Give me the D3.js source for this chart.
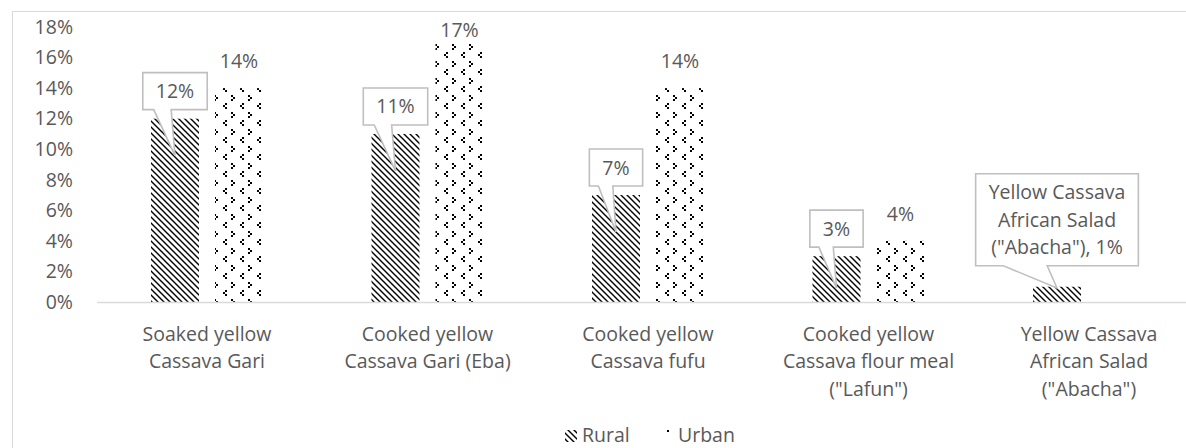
<!DOCTYPE html>
<html><head><meta charset="utf-8">
<script src="https://cdn.jsdelivr.net/npm/d3@7"></script>
<style>
html,body{margin:0;padding:0;background:#fff;}
svg{display:block;}
text{font-family:"Open Sans",sans-serif;fill:#595959;}
</style></head>
<body>
<svg id="chart" width="1186" height="448"></svg>
<script>
const categories = [
  ["Soaked yellow","Cassava Gari"],
  ["Cooked yellow","Cassava Gari (Eba)"],
  ["Cooked yellow","Cassava fufu"],
  ["Cooked yellow","Cassava flour meal","(\"Lafun\")"],
  ["Yellow Cassava","African Salad","(\"Abacha\")"]
];
const seriesNames = ["Rural","Urban"];
const ruralValues = [12, 11, 7, 3, 1];
const urbanValues = [14, 17, 14, 4, null];
const ruralCalloutLines = [["12%"],["11%"],["7%"],["3%"],["Yellow Cassava","African Salad","(\"Abacha\"), 1%"]];
const yTicks = [0,2,4,6,8,10,12,14,16,18];

const svg = d3.select("#chart");
const W = 1186, H = 448;
const FS = 19.5;

// chart border
svg.append("rect").attr("x",12.5).attr("y",11.5).attr("width",W).attr("height",H)
  .attr("fill","#fff").attr("stroke","#d9d9d9").attr("stroke-width",1);

// patterns
const defs = svg.append("defs");
const pr = defs.append("pattern").attr("id","pRural").attr("patternUnits","userSpaceOnUse")
  .attr("width",6).attr("height",6);
pr.append("path").attr("d","M-1,-1L7,7M-4,2L2,8M2,-4L8,2")
  .attr("stroke","#000").attr("stroke-width",1.4).attr("fill","none");
const pu = defs.append("pattern").attr("id","pUrban").attr("patternUnits","userSpaceOnUse")
  .attr("width",17).attr("height",17);
const divot = [[4,1],[2,3],[4,5],[10,10],[12,12],[10,14]];
pu.selectAll("rect").data(divot).join("rect")
  .attr("x",d=>d[0]).attr("y",d=>d[1]).attr("width",2).attr("height",2)
  .attr("fill","#000").attr("shape-rendering","crispEdges");

const x = d3.scaleBand().domain(d3.range(categories.length)).range([96.75, 1199.25]).padding(0);
const bw = x.bandwidth();
const xs = d3.scaleBand().domain(seriesNames).range([bw/2-56, bw/2+56]).paddingInner(0.25).paddingOuter(0);
const y = d3.scaleLinear().domain([0,18]).range([302, 27]);

// y axis
const ya = svg.append("g").attr("transform","translate(97,0)")
  .call(d3.axisLeft(y).tickValues(yTicks).tickFormat(d=>d+"%").tickSize(0).tickPadding(24));
ya.select(".domain").remove();
ya.selectAll("text").style("font-family","'Open Sans',sans-serif").style("font-size",FS+"px").attr("fill","#595959");

// bars
const rows = categories.map((c,i)=>({i, rural:ruralValues[i], urban:urbanValues[i]}));
const g = svg.append("g");
g.selectAll("rect.rural").data(rows).join("rect").attr("class","rural")
  .attr("x",d=>x(d.i)+xs("Rural")).attr("width",xs.bandwidth())
  .attr("y",d=>y(d.rural)).attr("height",d=>y(0)-y(d.rural)).attr("fill","url(#pRural)");
g.selectAll("rect.urban").data(rows.filter(d=>d.urban!=null)).join("rect").attr("class","urban")
  .attr("x",d=>x(d.i)+xs("Urban")).attr("width",xs.bandwidth())
  .attr("y",d=>y(d.urban)).attr("height",d=>y(0)-y(d.urban)).attr("fill","url(#pUrban)");

// x axis
const xa = svg.append("g").attr("transform","translate(0,302)")
  .call(d3.axisBottom(x).tickSize(0).tickSizeOuter(0).tickFormat(""));
xa.select(".domain").attr("stroke","#d9d9d9").attr("stroke-width",1.3);
xa.selectAll(".tick").each(function(d){
  const t = d3.select(this).select("text").text(null).attr("y",0).attr("dy",null)
    .style("font-family","'Open Sans',sans-serif").style("font-size",FS+"px").attr("fill","#595959")
    .attr("text-anchor","middle");
  categories[d].forEach((ln,k)=>{
    t.append("tspan").attr("x",0).attr("y",38.5+k*27.5).text(ln);
  });
});

// urban labels
g.selectAll("text.ul").data(rows.filter(d=>d.urban!=null)).join("text").attr("class","ul")
  .attr("x",d=>x(d.i)+xs("Urban")+xs.bandwidth()/2)
  .attr("y",d=>Math.max(y(d.urban)-20, 37))
  .attr("text-anchor","middle").style("font-size",FS+"px")
  .text(d=>d.urban+"%");

// rural callouts
rows.forEach(d=>{
  const lines = ruralCalloutLines[d.i];
  const cx = x(d.i)+xs("Rural")+xs.bandwidth()/2;
  const top = y(d.rural);
  const lh = 27.5;
  const grp = g.append("g");
  const path = grp.append("path");
  const txt = grp.append("text").attr("text-anchor","middle").style("font-size",FS+"px");
  lines.forEach((ln,k)=>txt.append("tspan").attr("x",cx).attr("dy",k?lh:0).text(ln));
  let wmax = 0;
  txt.selectAll("tspan").each(function(){ wmax = Math.max(wmax, this.getComputedTextLength()); });
  const n = lines.length;
  const bwid = wmax + 26;
  const bh = n*lh + 9.5;
  const gap = n>1 ? 21 : 9;
  const bBot = top - gap, bTop = bBot - bh;
  const bL = cx - bwid/2, bR = cx + bwid/2;
  const tipY = top + Math.max(1, Math.min(37, (y(0)-top) - 14));
  const b1 = bL + 0.17*bwid, b2 = bL + 0.44*bwid;
  path.attr("d",`M${bL},${bTop}L${bR},${bTop}L${bR},${bBot}L${b2},${bBot}L${cx},${tipY}L${b1},${bBot}L${bL},${bBot}Z`)
    .attr("fill","#fff").attr("stroke","#bfbfbf").attr("stroke-width",1.6);
  const firstBase = bTop + (bh - n*lh)/2 + lh*0.5 + 7;
  txt.attr("y", firstBase);
  txt.selectAll("tspan").filter((_,k)=>k===0).attr("y",firstBase).attr("dy",null);
});

// legend
const lg = svg.append("g");
const legendItems = [{name:"Rural",fill:"url(#pRural)",x:565},{name:"Urban",fill:"url(#pUrban)",x:661}];
legendItems.forEach(it=>{
  lg.append("rect").attr("x",it.x).attr("y",430).attr("width",12).attr("height",12).attr("fill",it.fill);
  lg.append("text").attr("x",it.x+17).attr("y",442).style("font-size",FS+"px").text(it.name);
});
</script>
</body></html>
